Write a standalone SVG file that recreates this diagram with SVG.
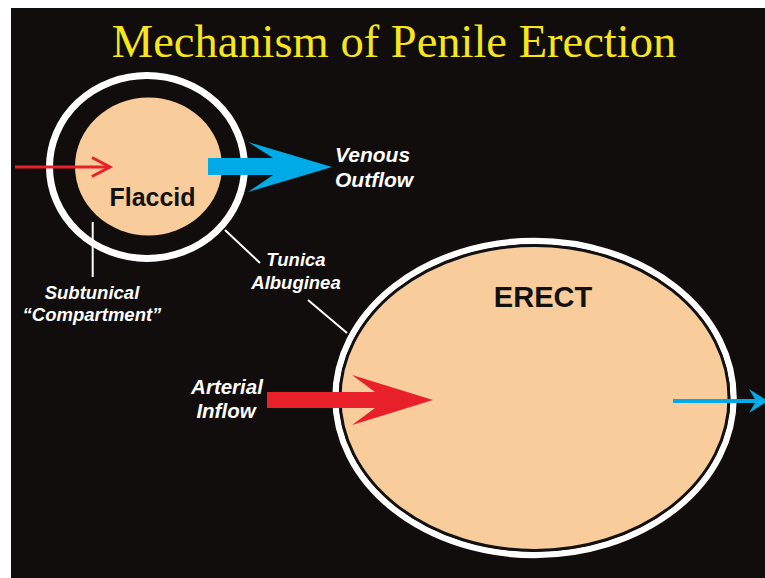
<svg xmlns="http://www.w3.org/2000/svg" width="765" height="578" viewBox="0 0 765 578">
<style>
.lbl{font-family:"Liberation Sans",Arial,sans-serif;font-weight:bold;font-style:italic;fill:#ffffff}
.nodeLbl{font-family:"Liberation Sans",Arial,sans-serif;font-weight:bold;fill:#111111}
.peach{fill:#f9cc9b}
.lead{stroke:#ffffff;stroke-width:2;fill:none}
</style>
<rect x="0" y="0" width="765" height="578" fill="#ffffff"/>
<rect x="11" y="8" width="754" height="570" fill="#110d0c"/>
<text x="394" y="57" text-anchor="middle" font-family="Liberation Serif,'Times New Roman',serif" font-size="46.5" fill="#f7e61c">Mechanism of Penile Erection</text>

<g id="flaccid">
<ellipse cx="147" cy="167" rx="97.5" ry="91.5" fill="none" stroke="#ffffff" stroke-width="7"/>
<ellipse class="peach" cx="148.5" cy="166.5" rx="73.5" ry="69"/>
<text class="nodeLbl" x="152.5" y="206" text-anchor="middle" font-size="25">Flaccid</text>
</g>

<g id="erect">
<ellipse cx="534.5" cy="398" rx="199" ry="157" fill="none" stroke="#ffffff" stroke-width="6.5"/>
<ellipse class="peach" cx="534.5" cy="398" rx="194.5" ry="152.5" stroke="#111111" stroke-width="3"/>
<text class="nodeLbl" x="543" y="307" text-anchor="middle" font-size="29">ERECT</text>
</g>

<g id="labels">
<text class="lbl" x="335" y="162" font-size="21">Venous</text>
<text class="lbl" x="335" y="187" font-size="21">Outflow</text>
<text class="lbl" x="92" y="299" text-anchor="middle" font-size="18.5">Subtunical</text>
<text class="lbl" x="92" y="321" text-anchor="middle" font-size="18.5">“Compartment”</text>
<text class="lbl" x="296" y="266" text-anchor="middle" font-size="18.5">Tunica</text>
<text class="lbl" x="296" y="289" text-anchor="middle" font-size="18.5">Albuginea</text>
<text class="lbl" x="227" y="394" text-anchor="middle" font-size="20.5">Arterial</text>
<text class="lbl" x="226" y="418" text-anchor="middle" font-size="20.5">Inflow</text>
</g>

<g id="connectors">
<line class="lead" x1="92.7" y1="222" x2="92.7" y2="277"/>
<line class="lead" x1="225" y1="230" x2="260" y2="263"/>
<line class="lead" x1="308" y1="300" x2="347" y2="333"/>
<line x1="15" y1="167" x2="108" y2="167" stroke="#e8202a" stroke-width="3"/>
<polyline points="92,157.5 110,167 92,176.5" fill="none" stroke="#e8202a" stroke-width="3" stroke-linejoin="miter"/>
<polygon points="208,158 273,158 248,142 332,167 248,192 273,175 208,175" fill="#00aae7"/>
<polygon points="267,392 375,392 352,375 433,400 352,425 375,408 267,408" fill="#e8202a"/>
<line x1="673" y1="401" x2="757" y2="401" stroke="#00aae7" stroke-width="4"/>
<polygon points="768,401 749,389 756,401 749,413" fill="#00aae7"/>
</g>
</svg>
